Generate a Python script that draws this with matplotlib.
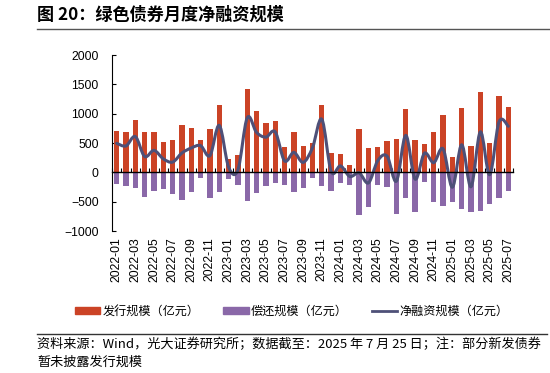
import matplotlib
matplotlib.use("Agg")
import matplotlib.pyplot as plt
import numpy as np
from matplotlib.path import Path
from matplotlib.patches import PathPatch, Patch
from matplotlib.lines import Line2D

plt.rcParams['font.family'] = ['Noto Sans CJK SC', 'DejaVu Sans']

# months 2022-01 .. 2025-07
months = []
for y in range(2022, 2026):
    for m in range(1, 13):
        if y == 2025 and m > 7:
            break
        months.append('%d-%02d' % (y, m))

issue = [700, 684, 887, 695, 695, 520, 548, 808, 757, 559, 734, 1153,
         220, 288, 1418, 1040, 836, 870, 424, 684, 446, 497, 1147, 333,
         305, 124, 734, 412, 424, 531, 571, 1085, 559, 486, 695, 983,
         260, 1102, 446, 1367, 508, 1299, 1107]
repay = [-198, -226, -271, -412, -311, -288, -362, -475, -333, -96, -446, -339,
         -113, -220, -486, -345, -226, -175, -220, -333, -271, -96, -237, -311,
         -186, -220, -729, -593, -209, -249, -712, -441, -678, -164, -514, -576,
         -514, -627, -678, -667, -537, -441, -322]
net = [495, 450, 610, 270, 375, 230, 175, 330, 415, 455, 285, 800,
       90, 40, 930, 680, 600, 690, 195, 340, 170, 420, 905, 15,
       110, -70, -10, -180, 200, 275, -150, 630, -115, 325, 165, 400,
       -254, 470, -245, 690, -40, 860, 785]

c_issue = '#CB4326'
c_repay = '#8A68A8'
c_net = '#4E5078'

fig = plt.figure(figsize=(5.5, 3.73), dpi=100)
ax = fig.add_axes([112 / 550, 1 - 231 / 373, 401 / 550, 176 / 373])

x = np.arange(len(months))
ax.bar(x, issue, width=0.57, color=c_issue, zorder=2)
ax.bar(x, repay, width=0.57, color=c_repay, zorder=2)

# smoothed line (Bezier through the data points, like Excel's smooth line)
pts = np.column_stack([x, net]).astype(float)
verts = [pts[0]]
codes = [Path.MOVETO]
for i in range(len(pts) - 1):
    p0 = pts[max(i - 1, 0)]
    p1 = pts[i]
    p2 = pts[i + 1]
    p3 = pts[min(i + 2, len(pts) - 1)]
    verts += [p1 + (p2 - p0) / 6, p2 - (p3 - p1) / 6, p2]
    codes += [Path.CURVE4] * 3
ax.add_patch(PathPatch(Path(verts, codes), facecolor='none', edgecolor=c_net,
                       lw=2.2, zorder=3, capstyle='round', joinstyle='round'))

ax.set_xlim(-0.5, len(months) - 0.5)
ax.set_ylim(-1000, 2000)
ax.set_yticks(range(-1000, 2001, 500))
ax.tick_params(axis='y', direction='in', length=3, width=0.8, labelsize=8.8, pad=9.5)
for lab in ax.get_yticklabels():
    lab.set_fontfamily(['Liberation Sans', 'DejaVu Sans'])

ax.spines['top'].set_visible(False)
ax.spines['right'].set_visible(False)
ax.spines['left'].set_linewidth(0.8)
ax.spines['bottom'].set_position(('data', 0))
ax.spines['bottom'].set_linewidth(1.0)
ax.spines['bottom'].set_zorder(4)

ax.set_xticks(x[::2])
ax.set_xticklabels(months[::2], rotation=90, fontsize=8.8,
                   fontfamily=['Liberation Sans', 'DejaVu Sans'])
ax.set_xticks(np.arange(-0.5, len(months), 1), minor=True)
ax.tick_params(axis='x', which='major', length=0, pad=47)
ax.tick_params(axis='x', which='minor', direction='in', length=3, width=0.8)

handles = [Patch(color=c_issue), Patch(color=c_repay), Line2D([], [], color=c_net, lw=2)]
labels = ['发行规模（亿元）', '偿还规模（亿元）', '净融资规模（亿元）']
fig.legend(handles, labels, loc='center', bbox_to_anchor=(0.53, 1 - 311 / 373),
           ncol=3, frameon=False, fontsize=8.7, handlelength=2.1, handleheight=0.55,
           handletextpad=0.15, columnspacing=2.0)

fig.text(37 / 550, 1 - 15 / 373, '图 20：绿色债券月度净融资规模', fontsize=12.3,
         fontweight='bold', va='center', ha='left')
fig.add_artist(Line2D([37 / 550, 1], [1 - 29 / 373] * 2, color='#555555', lw=1))
fig.add_artist(Line2D([37 / 550, 547 / 550], [1 - 334 / 373] * 2, color='#333333', lw=1))
fig.text(37 / 550, 1 - 344 / 373,
         '资料来源：Wind，光大证券研究所；数据截至：2025 年 7 月 25 日；注：部分新发债券',
         fontsize=9.45, va='center', ha='left')
fig.text(37 / 550, 1 - 362 / 373, '暂未披露发行规模', fontsize=9.45, va='center', ha='left')

fig.savefig('out.png', dpi=100)
